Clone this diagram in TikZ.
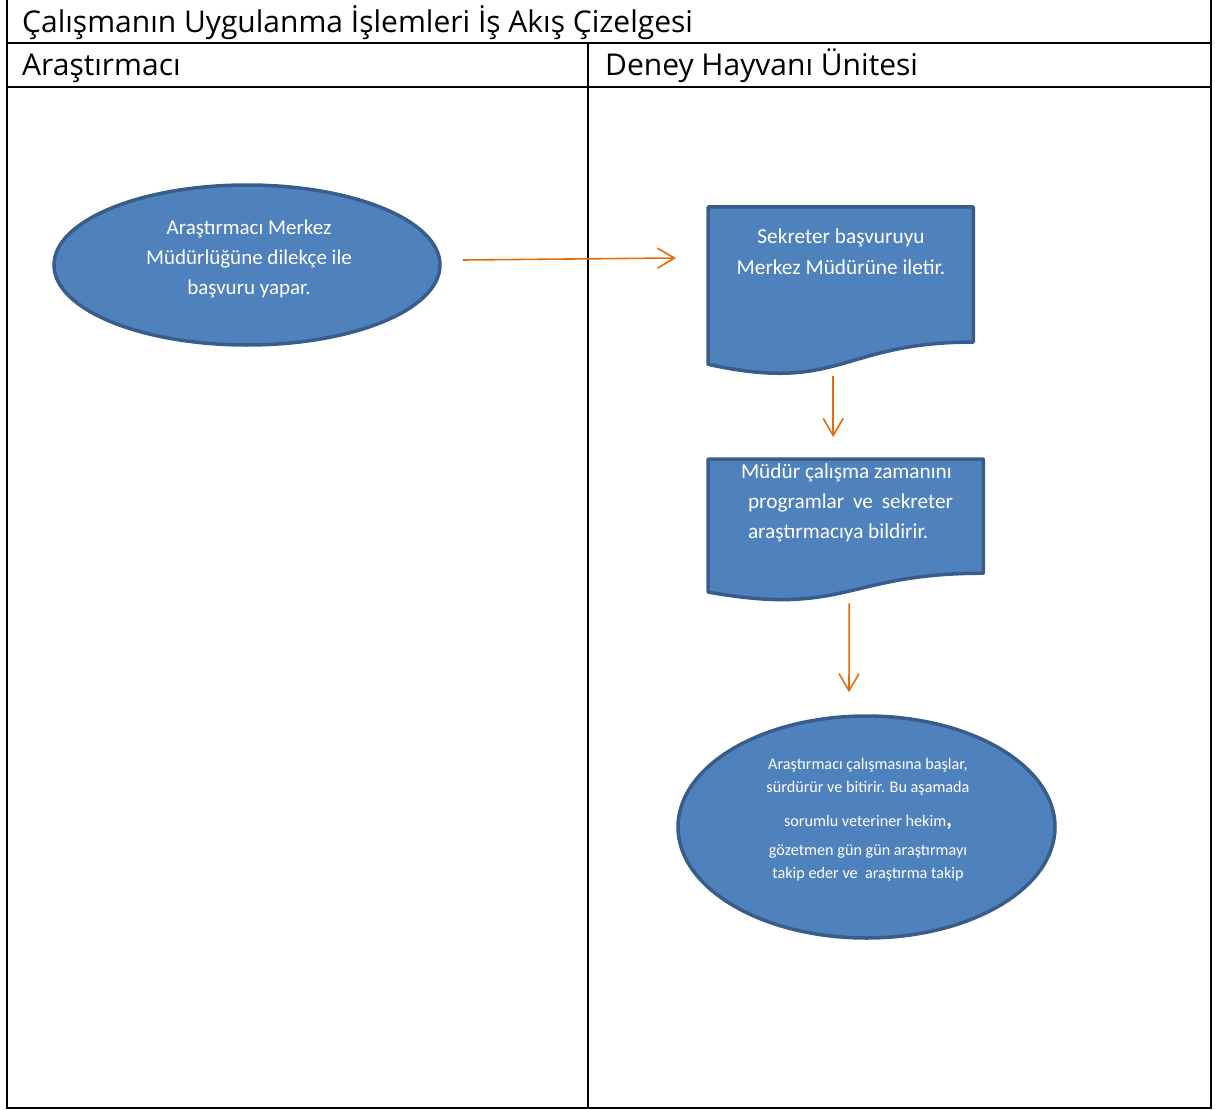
\documentclass[tikz,border=0pt]{standalone}
\usepackage{fontspec}
\setmainfont{Carlito}
\newfontfamily\headfont{Open Sans}
\usetikzlibrary{arrows.meta,calc,shapes.geometric}
\definecolor{shapefill}{HTML}{4F81BD}
\definecolor{shapeline}{HTML}{385D8A}
\definecolor{flowarrow}{HTML}{E46C0A}
\begin{document}
\begin{tikzpicture}[x=1pt,y=-1pt,
  grid/.style={line width=2pt, black},
  head/.style={font=\headfont\fontsize{30}{36}\selectfont, anchor=base west, inner sep=0},
  blob/.style={ellipse, fill=shapefill, draw=shapeline, line width=3.5pt, inner sep=0},
  docframe/.style={minimum width=#1, inner sep=0, anchor=north west},
  docbox/.style={fill=shapefill, draw=shapeline, line width=3.5pt, line join=round},
  shapetext/.style={text=white, align=center, inner sep=0},
  arr/.style={draw=flowarrow, line width=1.6pt,
    -{Straight Barb[length=17pt,width=20pt,line width=1.6pt]}}
]
\useasboundingbox (0,0) rectangle (1215,1110);

% table frame and swimlanes
\draw[grid] (7,0) -- (7,1108) -- (1211,1108) -- (1211,0);
\draw[grid] (7,43) -- (1211,43);
\draw[grid] (7,87) -- (1211,87);
\draw[grid] (588,43) -- (588,1108);

\node[head] (title) at (22,33) {Çalışmanın Uygulanma İşlemleri İş Akış Çizelgesi};
\node[head] (lane1) at (22,76) {Araştırmacı};
\node[head] (lane2) at (605,76) {Deney Hayvanı Ünitesi};

% start ellipse
\node[blob, minimum width=386pt, minimum height=160pt] (e1) at (247,265) {};
\node[shapetext, font=\fontsize{21}{30}\selectfont] (t1) at (249,259)
  {Araştırmacı Merkez\\Müdürlüğüne dilekçe ile\\başvuru yapar.};

% first document shape
\node[docframe=265pt, minimum height=168pt] (d1) at (708,207) {};
\draw[docbox] (d1.north west) -- (d1.north east)
  -- ($(d1.north east)!0.802!(d1.south east)$)
  .. controls ($(d1.north)!0.802!(d1.south)$) and ($(d1.north)!1.1075!(d1.south)$)
  .. ($(d1.north west)!0.934!(d1.south west)$) -- cycle;
\node[shapetext, font=\fontsize{21.3}{31}\selectfont] (t2) at (841,252)
  {Sekreter başvuruyu\\Merkez Müdürüne iletir.};

% second document shape
\node[docframe=275pt, minimum height=142pt] (d2) at (708,459) {};
\draw[docbox] (d2.north west) -- (d2.north east)
  -- ($(d2.north east)!0.802!(d2.south east)$)
  .. controls ($(d2.north)!0.802!(d2.south)$) and ($(d2.north)!1.1075!(d2.south)$)
  .. ($(d2.north west)!0.934!(d2.south west)$) -- cycle;
\node[shapetext, align=left, font=\fontsize{21.3}{30}\selectfont] (t3) at (850.5,503)
  {\hspace*{-7pt}Müdür çalışma zamanını\\
   \makebox[205pt][s]{programlar ve sekreter}\\
   araştırmacıya bildirir.};

% final ellipse
\node[blob, minimum width=377pt, minimum height=222pt] (e2) at (866.5,827) {};
\node[shapetext, font=\fontsize{16.2}{23}\selectfont] (t4) at (868,820)
  {Araştırmacı çalışmasına başlar,\\
   sürdürür ve bitirir. Bu aşamada\\[11pt]
   sorumlu veteriner hekim{\fontsize{22}{22}\selectfont\bfseries,}\\[6pt]
   gözetmen gün gün araştırmayı\\
   takip eder ve\ \ araştırma takip};

% connectors
\draw[arr] ($(e1.east)+(21,-5)$) -- ($(d1.north west)+(-32,51)$);
\draw[arr] ($(d1.south)+(-7.5,1)$) -- ($(d2.north)+(-12.5,-22)$);
\draw[arr] ($(d2.south)+(3.5,2)$) -- ($(e2.north)+(-17.5,-22)$);
\end{tikzpicture}
\end{document}
